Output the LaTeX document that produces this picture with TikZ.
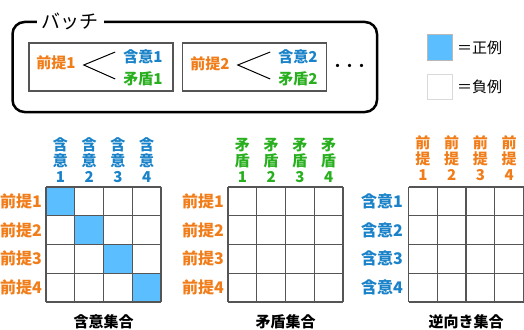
\documentclass[tikz,border=0pt]{standalone}
\usepackage{fontspec}
\setmainfont{Noto Sans CJK JP}
\usetikzlibrary{calc}
\definecolor{cOr}{RGB}{240,125,25}
\definecolor{cBl}{RGB}{25,130,200}
\definecolor{cGr}{RGB}{40,175,30}
\definecolor{cCell}{RGB}{90,190,255}
\definecolor{cGrid}{RGB}{85,85,85}
\begin{document}
\begin{tikzpicture}[x=1pt,y=-1pt,
  lab/.style={font=\bfseries\fontsize{15}{16}\selectfont, inner sep=0pt},
  rowlab/.style={font=\bfseries\fontsize{16}{17}\selectfont, inner sep=0pt, anchor=east, text=cOr},
  collab/.style={font=\bfseries\fontsize{15}{16}\selectfont, inner sep=0pt, align=center},
  ttl/.style={font=\bfseries\fontsize{15}{16}\selectfont, inner sep=0pt},
  gridline/.style={draw=cGrid, line width=1.2pt},
  pairbox/.style={draw=cGrid, line width=1.2pt, minimum width=144pt, minimum height=48pt, inner sep=0pt},
  legsq/.style={minimum width=25pt, minimum height=25pt, inner sep=0pt, line width=1pt},
  legtxt/.style={font=\fontsize{15}{16}\selectfont, inner sep=0pt, anchor=west}]
\useasboundingbox (0,0) rectangle (524,329);

% batch frame
\draw[line width=2.5pt, rounded corners=12pt] (12.5,22) rectangle (377,112);
\node[fill=white, inner xsep=5pt, inner ysep=2pt, font=\fontsize{19}{20}\selectfont] (batch) at (70,21) {バッチ};

% pair boxes
\node[pairbox] (b1) at (101,67) {};
\node[pairbox] (b2) at (254.5,67) {};
\node[lab, text=cOr] (p1) at (56,63) {前提1};
\node[lab, text=cBl] (i1) at (143,57) {含意1};
\node[lab, text=cGr] (c1) at (143,79) {矛盾1};
\node[lab, text=cOr] (p2) at (210,64) {前提2};
\node[lab, text=cBl] (i2) at (298,57) {含意2};
\node[lab, text=cGr] (c2) at (298,79) {矛盾2};
\draw[line width=1pt] ([xshift=-8pt,yshift=5pt]i1.west) -- ([xshift=8pt,yshift=-2pt]p1.east) -- ([xshift=-8pt]c1.west);
\draw[line width=1pt] ([xshift=-8pt,yshift=5pt]i2.west) -- ([xshift=8pt,yshift=-1pt]p2.east) -- ([xshift=-8pt]c2.west);
\node[font=\bfseries\fontsize{12}{12}\selectfont, inner sep=0pt] (dots) at (349.5,67) {・・・};

% legend
\node[legsq, draw=gray!55, fill=cCell] (pos) at (440,47.5) {};
\node[legtxt] (postxt) at ([xshift=4pt]pos.east) {＝正例};
\node[legsq, draw=gray!30, fill=white] (neg) at (440,86.5) {};
\node[legtxt] (negtxt) at ([xshift=4pt]neg.east) {＝負例};

% grids
\def\cs{28.75}
% grid 1 cells
\foreach \i in {0,...,3} {
  \fill[cCell] ({46+\i*\cs},{187+\i*\cs}) rectangle ({46+(\i+1)*\cs},{187+(\i+1)*\cs});
}
\foreach \gx in {46,228,408.5} {
  \foreach \i in {0,...,4} {
    \draw[gridline] ({\gx+\i*\cs},187) -- ({\gx+\i*\cs},302);
    \draw[gridline] (\gx,{187+\i*\cs}) -- ({\gx+4*\cs},{187+\i*\cs});
  }
}
% labels grid 1
\foreach \n in {1,...,4} {
  \node[collab, text=cBl] (g1c\n) at ({46+(\n-0.5)*\cs},160) {含\\意\\\n};
  \node[rowlab] (g1r\n) at (42,{187+(\n-0.5)*\cs}) {前提\n};
  \node[collab, text=cGr] (g2c\n) at ({228+(\n-0.5)*\cs},160) {矛\\盾\\\n};
  \node[rowlab] (g2r\n) at (224,{187+(\n-0.5)*\cs}) {前提\n};
  \node[collab, text=cOr] (g3c\n) at ({408.5+(\n-0.5)*\cs},158) {前\\提\\\n};
  \node[rowlab, text=cBl] (g3r\n) at (403,{187+(\n-0.5)*\cs}) {含意\n};
}
\node[ttl] (t1) at (103.5,322) {含意集合};
\node[ttl] (t2) at (285.5,322) {矛盾集合};
\node[ttl] (t3) at (466,322) {逆向き集合};
\end{tikzpicture}
\end{document}
